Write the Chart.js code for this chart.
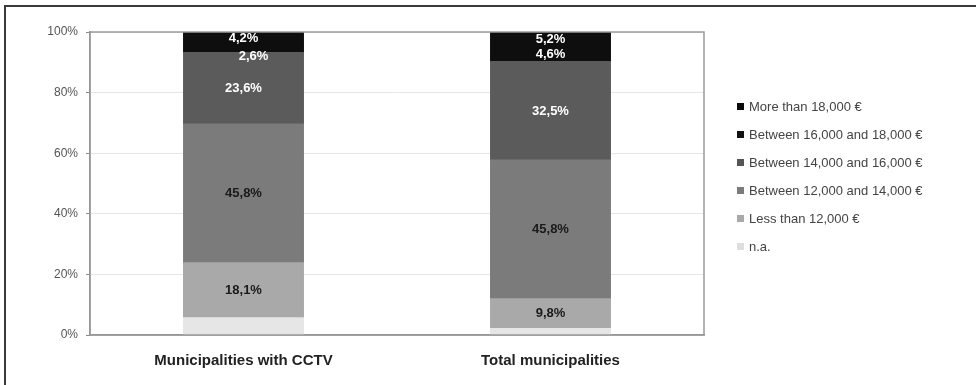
<!DOCTYPE html>
<html>
<head>
<meta charset="utf-8">
<script src="https://cdn.jsdelivr.net/npm/chart.js@4/dist/chart.umd.min.js"></script>
<style>
  html, body { margin: 0; padding: 0; background: #fff; }
  #wrap { position: relative; width: 976px; height: 385px; }
</style>
</head>
<body>
<div id="wrap"><canvas id="incomeChart" width="976" height="385"></canvas></div>
<script>
// Categorias e séries (de baixo para cima na barra)
const categories = ['Municipalities with CCTV', 'Total municipalities'];
const seriesNames = ['n.a.', 'Less than 12,000 €', 'Between 12,000 and 14,000 €',
  'Between 14,000 and 16,000 €', 'Between 16,000 and 18,000 €', 'More than 18,000 €'];
const naValues = [5.7, 2.1];
const below12k = [18.1, 9.8];
const from12to14k = [45.8, 45.8];
const from14to16k = [23.6, 32.5];
const from16to18k = [2.6, 4.6];
const above18k = [4.2, 5.2];
const yTicks = [0, 20, 40, 60, 80, 100];

const fills = ['#e6e6e6', '#a9a9a9', '#7b7b7b', '#5b5b5b', '#0e0e0e', '#0e0e0e'];
const legendFills = ['#dedede', '#a9a9a9', '#7b7b7b', '#555555', '#111111', '#0a0a0a'];
const labelColors = [null, '#1a1a1a', '#1a1a1a', '#ffffff', '#ffffff', '#ffffff'];
const allSeries = [naValues, below12k, from12to14k, from14to16k, from16to18k, above18k];
const FONT = '"Liberation Sans", Arial, sans-serif';

const datasets = allSeries.map((vals, i) => ({
  label: seriesNames[i],
  data: vals,
  backgroundColor: fills[i],
  borderWidth: 0,
  inflateAmount: 0.6,
  categoryPercentage: 1,
  barPercentage: 0.39
}));

// Moldura exterior e caixa da área do gráfico
const framePlugin = {
  id: 'frame',
  beforeDraw(chart) {
    const c = chart.ctx;
    c.save();
    c.fillStyle = '#fff';
    c.fillRect(0, 0, chart.width, chart.height);
    c.strokeStyle = '#3a3a3a';
    c.lineWidth = 2;
    c.beginPath();
    c.moveTo(5, chart.height);
    c.lineTo(5, 6);
    c.lineTo(chart.width, 6);
    c.stroke();
    c.restore();
  },
  afterDraw(chart) {
    const a = chart.chartArea;
    const c = chart.ctx;
    c.save();
    c.strokeStyle = '#9a9a9a';
    c.lineWidth = 1.5;
    c.strokeRect(a.left, a.top, a.right - a.left, a.bottom - a.top);
    c.restore();
  }
};

// Rótulos de percentagem no meio de cada segmento
const valueLabels = {
  id: 'valueLabels',
  afterDatasetsDraw(chart, args, opts) {
    const c = chart.ctx;
    c.save();
    c.font = 'bold 13px ' + FONT;
    c.textAlign = 'center';
    c.textBaseline = 'middle';
    chart.data.datasets.forEach((ds, di) => {
      if (!labelColors[di]) return;
      chart.getDatasetMeta(di).data.forEach((bar, i) => {
        const off = (opts.offsets[di + ':' + i]) || [0, 0];
        const txt = ds.data[i].toFixed(1).replace('.', ',') + '%';
        c.fillStyle = labelColors[di];
        c.fillText(txt, bar.x + off[0], (bar.y + bar.base) / 2 + off[1]);
      });
    });
    c.restore();
  }
};

// Legenda à direita, da série de cima para a de baixo
const sideLegend = {
  id: 'sideLegend',
  afterDraw(chart) {
    const c = chart.ctx;
    c.save();
    c.font = '13px ' + FONT;
    c.textBaseline = 'middle';
    const n = chart.data.datasets.length;
    for (let k = 0; k < n; k++) {
      const di = n - 1 - k;
      const y = 106 + k * 28;
      c.fillStyle = legendFills[di];
      c.fillRect(737, y - 3, 7, 7);
      c.fillStyle = '#444';
      c.fillText(chart.data.datasets[di].label, 749, y + 1);
    }
    c.restore();
  }
};

new Chart(document.getElementById('incomeChart'), {
  type: 'bar',
  data: { labels: categories, datasets: datasets },
  options: {
    responsive: false,
    animation: false,
    layout: { padding: { left: 40, right: 272, top: 32, bottom: 0 } },
    plugins: {
      legend: { display: false },
      tooltip: { enabled: false },
      valueLabels: { offsets: { '4:0': [10, 8] } }
    },
    scales: {
      x: {
        stacked: true,
        grid: { display: false },
        border: { color: '#8a8a8a', width: 1.5 },
        ticks: {
          padding: 9,
          color: '#222',
          font: { family: FONT, size: 15, weight: 'bold' }
        },
        afterFit: s => { s.height = 50; }
      },
      y: {
        stacked: true,
        min: 0,
        max: 100,
        afterBuildTicks: s => { s.ticks = yTicks.map(v => ({ value: v })); },
        grid: { color: '#e6e6e6', tickColor: '#8a8a8a', tickLength: 4 },
        border: { color: '#8a8a8a', width: 1.5 },
        ticks: {
          padding: 8,
          color: '#555',
          font: { family: FONT, size: 12 },
          callback: v => v + '%'
        },
        afterFit: s => { s.width = 50; }
      }
    }
  },
  plugins: [framePlugin, valueLabels, sideLegend]
});
</script>
</body>
</html>
